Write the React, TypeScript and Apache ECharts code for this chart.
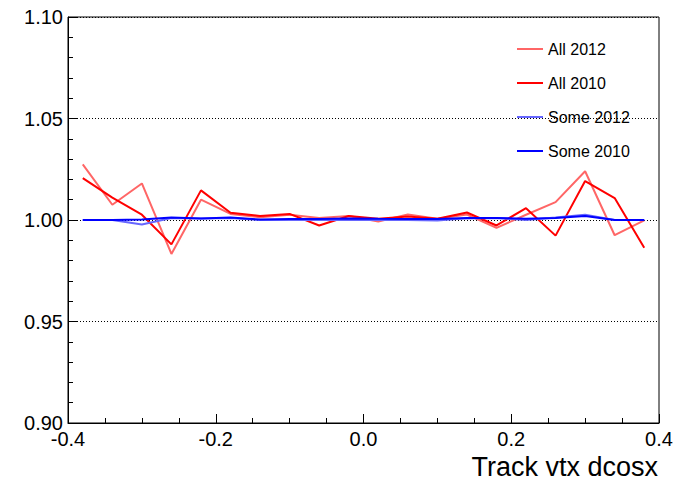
import React, { useEffect, useRef } from "react";
import * as echarts from "echarts";

const binCenters = [
  -0.38, -0.34, -0.3, -0.26, -0.22, -0.18, -0.14, -0.1, -0.06, -0.02,
  0.02, 0.06, 0.1, 0.14, 0.18, 0.22, 0.26, 0.3, 0.34, 0.38,
];
const all2012 = [
  1.0274, 1.0075, 1.018, 0.9833, 1.01, 1.003, 1.0014, 1.0026, 1.001, 1.002,
  0.9993, 1.0027, 1.0006, 1.0027, 0.9961, 1.0026, 1.0088, 1.024, 0.9925, 0.9998,
];
const all2010 = [
  1.0206, 1.011, 1.0026, 0.988, 1.0146, 1.0036, 1.002, 1.003, 0.9973, 1.002,
  1.0006, 1.0017, 1.0006, 1.0037, 0.9973, 1.0058, 0.9923, 1.0192, 1.0108, 0.9863,
];
const some2012 = [
  1.0, 1.0, 0.9978, 1.001, 1.0008, 1.001, 1.0, 1.0, 1.0, 1.0,
  1.0, 1.0, 0.9998, 1.0008, 1.001, 1.0, 1.0012, 1.0026, 1.0, 1.0,
];
const some2010 = [
  1.0, 1.0, 1.0002, 1.0012, 1.0008, 1.0012, 1.0002, 1.0005, 1.0005, 1.0008,
  1.0006, 1.0005, 1.0005, 1.001, 1.001, 1.0006, 1.001, 1.002, 1.0, 1.0,
];
const seriesNames = ["All 2012", "All 2010", "Some 2012", "Some 2010"];
const seriesColors = ["#ff6666", "#ff0000", "#6666ff", "#0000ff"];
const xTitle = "Track vtx dcosx";

const FONT = "'Liberation Sans', Helvetica, Arial, sans-serif";

export default function App() {
  const ref = useRef<HTMLDivElement>(null);
  useEffect(() => {
    if (!ref.current) return;
    const chart = echarts.init(ref.current, null, { renderer: "svg" });
    const values = [all2012, all2010, some2012, some2010];
    chart.setOption({
      animation: false,
      backgroundColor: "#ffffff",
      textStyle: { fontFamily: FONT },
      grid: {
        left: 68,
        right: 20,
        top: 17,
        bottom: 63,
        show: true,
        borderColor: "#000000",
        borderWidth: 1,
        backgroundColor: "transparent",
      },
      legend: {
        orient: "vertical",
        left: 517,
        top: 41,
        padding: 0,
        itemWidth: 26,
        itemHeight: 14,
        itemGap: 18,
        icon: "path://M0,6 L26,6 L26,8 L0,8 Z",
        textStyle: { fontSize: 16, color: "#000", fontFamily: FONT, lineHeight: 16 },
        data: seriesNames,
      },
      xAxis: {
        type: "value",
        min: -0.4,
        max: 0.4,
        interval: 0.2,
        axisLine: { show: true, onZero: false, lineStyle: { color: "#000", width: 1 } },
        axisTick: { show: true, inside: true, length: 9, lineStyle: { color: "#000" } },
        minorTick: { show: true, splitNumber: 4, length: 5, lineStyle: { color: "#000" } },
        splitLine: { show: false },
        axisLabel: {
          fontSize: 20,
          color: "#000",
          margin: 6,
          fontFamily: FONT,
          formatter: (v: number) => v.toFixed(1),
        },
      },
      yAxis: {
        type: "value",
        min: 0.9,
        max: 1.1,
        interval: 0.05,
        axisLine: { show: true, onZero: false, lineStyle: { color: "#000", width: 1 } },
        axisTick: { show: true, inside: true, length: 10, lineStyle: { color: "#000" } },
        minorTick: { show: true, splitNumber: 5, length: 5, lineStyle: { color: "#000" } },
        splitLine: { show: true, lineStyle: { color: "#000", type: [1, 2], width: 1 } },
        axisLabel: {
          fontSize: 20,
          color: "#000",
          margin: 5,
          fontFamily: FONT,
          formatter: (v: number) => v.toFixed(2),
        },
      },
      graphic: [
        {
          type: "text",
          right: 21,
          top: 453,
          style: { text: xTitle, fontSize: 27, fill: "#000", font: `27px ${FONT}` },
        },
      ],
      series: values.map((vals, i) => ({
        name: seriesNames[i],
        type: "line",
        symbol: "none",
        showSymbol: false,
        data: binCenters.map((x, j) => [x, vals[j]]),
        lineStyle: { color: seriesColors[i], width: 2 },
        itemStyle: { color: seriesColors[i] },
        z: 2 + i,
      })),
    });
    return () => chart.dispose();
  }, []);
  return (
    <div
      ref={ref}
      style={{ position: "absolute", left: 0, top: 0, width: 679, height: 486 }}
    />
  );
}
